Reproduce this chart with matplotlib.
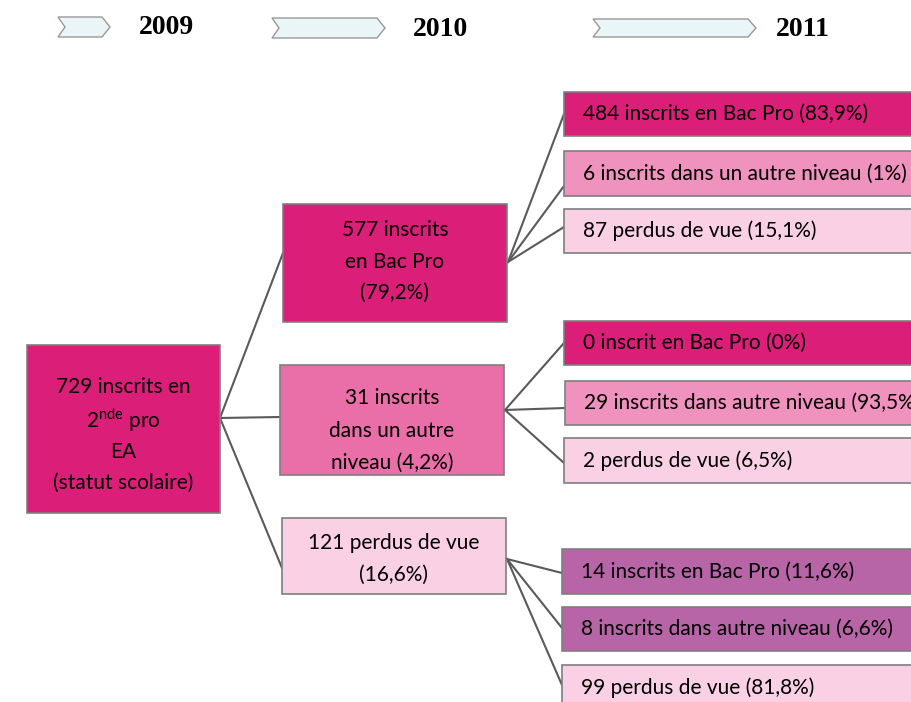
import matplotlib.pyplot as plt
from matplotlib.patches import Rectangle, Polygon

plt.rcParams['font.family'] = ['Lato', 'DejaVu Sans']
plt.rcParams['mathtext.fontset'] = 'custom'
plt.rcParams['mathtext.rm'] = 'Lato'

# data
years = ["2009", "2010", "2011"]
root_label = ["729 inscrits en", "2$^{\\mathrm{nde}}$ pro", "EA", "(statut scolaire)"]
level1_labels = [
    ["577 inscrits", "en Bac Pro", "(79,2%)"],
    ["31 inscrits", "dans un autre", "niveau (4,2%)"],
    ["121 perdus de vue", "(16,6%)"],
]
level2_labels = [
    ["484 inscrits en Bac Pro (83,9%)",
     "6 inscrits dans un autre niveau (1%)",
     "87 perdus de vue (15,1%)"],
    ["0 inscrit en Bac Pro (0%)",
     "29 inscrits dans autre niveau (93,5%)",
     "2 perdus de vue (6,5%)"],
    ["14 inscrits en Bac Pro (11,6%)",
     "8 inscrits dans autre niveau (6,6%)",
     "99 perdus de vue (81,8%)"],
]

# layout (pixel coords)
chevrons = [(58, 110, 17, 37), (272, 385, 18, 38), (593, 756, 19, 37)]
year_x = [167, 441, 803]

root_box = (27, 345, 220, 513)
l1_boxes = [(283, 204, 507, 322), (280, 365, 504, 475), (282, 518, 506, 594)]
l1_colors = ["#DB1F78", "#EA6FA8", "#F9D0E4"]
l1_text_y = [[230, 262, 293], [398, 431, 463], [543, 575]]
l1_in = [253, 417, 568]

l2_boxes = [
    [(564, 92, 136), (564, 151, 196), (564, 209, 253)],
    [(564, 321, 365), (565, 381, 425), (564, 438, 483)],
    [(562, 549, 594), (562, 607, 651), (562, 665, 730)],
]
l2_colors = [
    ["#DB1F78", "#F092BE", "#F9D0E4"],
    ["#DB1F78", "#F092BE", "#F9D0E4"],
    ["#B865A8", "#B865A8", "#F9D0E4"],
]
l2_out = [(508, 262), (505, 410), (507, 559)]
l2_in = [[114, 186, 227], [343, 408, 463], [573, 628, 685]]

W, H = 912, 702
fig = plt.figure(figsize=(W / 100, H / 100), dpi=100)
ax = fig.add_axes([0, 0, 1, 1])
ax.set_xlim(0, W)
ax.set_ylim(H, 0)
ax.axis('off')

edge = "#7F7F7F"
line_c = "#5A5A5A"
fs = 15

# header chevrons
for (x0, x1, y0, y1), yr, tx in zip(chevrons, years, year_x):
    ym = (y0 + y1) / 2
    pts = [(x0, y0), (x1 - 8, y0), (x1, ym), (x1 - 8, y1), (x0, y1), (x0 + 7, ym)]
    ax.add_patch(Polygon(pts, closed=True, facecolor="#EAF5F8", edgecolor="#999999", lw=1))
    ax.text(tx, ym + 1, yr, ha='center', va='center', fontsize=20, fontweight='bold',
            family=['Liberation Serif', 'DejaVu Serif'])

def box(x0, y0, x1, y1, color):
    ax.add_patch(Rectangle((x0, y0), x1 - x0, y1 - y0, facecolor=color,
                           edgecolor=edge, lw=1.2, zorder=2))

# connectors
rx = root_box[2]
ry = 418
for (bx0, by0, bx1, by1), yin in zip(l1_boxes, l1_in):
    ax.plot([rx, bx0], [ry, yin], color=line_c, lw=1.5, zorder=1)
for (ox, oy), boxes, ins in zip(l2_out, l2_boxes, l2_in):
    for (bx0, by0, by1), yin in zip(boxes, ins):
        ax.plot([ox, bx0], [oy, yin], color=line_c, lw=1.5, zorder=1)

# root
box(*root_box, "#DB1F78")
cx = (root_box[0] + root_box[2]) / 2
for t, y in zip(root_label, [387, 420, 452, 483]):
    ax.text(cx, y, t, ha='center', va='center', fontsize=fs, zorder=3)

# level 1
for b, col, lines, ys in zip(l1_boxes, l1_colors, level1_labels, l1_text_y):
    box(*b, col)
    cx = (b[0] + b[2]) / 2
    for t, y in zip(lines, ys):
        ax.text(cx, y, t, ha='center', va='center', fontsize=fs, zorder=3)

# level 2
for boxes, cols, labels in zip(l2_boxes, l2_colors, level2_labels):
    for (bx0, by0, by1), col, t in zip(boxes, cols, labels):
        box(bx0, by0, 950, by1, col)
        ty = (by0 + min(by1, by0 + 45)) / 2
        ax.text(bx0 + 19, ty, t, ha='left', va='center', fontsize=fs, zorder=3)

fig.savefig("out.png", dpi=100)
